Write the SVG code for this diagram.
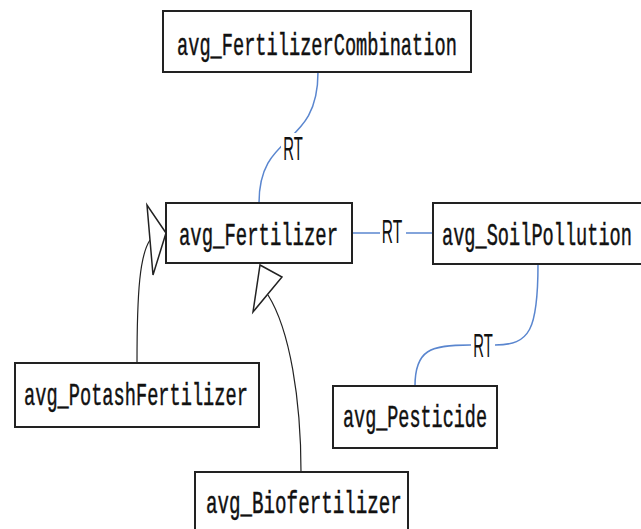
<svg xmlns="http://www.w3.org/2000/svg" width="641" height="529" viewBox="0 0 641 529">
<style>
.box{fill:#fff;stroke:#222;stroke-width:2}
.lbl{font-family:"Liberation Mono","Courier New",monospace;font-size:32px;fill:#111;stroke:#111;stroke-width:0.5}
.rt{font-family:"Liberation Sans",Arial,sans-serif;font-size:33px;fill:#111;text-anchor:middle}
.blue{fill:none;stroke:#5a86cf;stroke-width:1.5}
.gen{fill:none;stroke:#222;stroke-width:1.2}
.head{fill:#fff;stroke:#222;stroke-width:1.5;stroke-linejoin:miter}
</style>
<rect width="641" height="529" fill="#fff"/>
<g id="connectors">
  <path class="blue" d="M318,72 C318,150 259,130 259,203"/>
  <rect x="281" y="133" width="24" height="30" fill="#fff"/>
  <text class="rt" transform="translate(293,160) scale(0.45,1)">RT</text>
  <path class="blue" d="M352,233 L433,233"/>
  <rect x="380" y="217" width="26" height="30" fill="#fff"/>
  <text class="rt" transform="translate(392,243) scale(0.47,1)">RT</text>
  <path class="blue" d="M538,264 C538,330 530,345 495,345 L470,345 C430,345 415,350 415,386"/>
  <rect x="471" y="330" width="24" height="30" fill="#fff"/>
  <text class="rt" transform="translate(483,357) scale(0.45,1)">RT</text>
  <path class="gen" d="M137,363 C137,290 140,255 150,240"/>
  <polygon class="head" points="166,233 147,205 153,275"/>
  <path class="gen" d="M301,472 C301,400 290,330 268,295"/>
  <polygon class="head" points="260,265 282,277 253,312"/>
</g>
<g id="avg_FertilizerCombination">
  <rect class="box" x="163" y="11" width="308" height="61"/>
  <text class="lbl" transform="translate(177,55) scale(0.583,1)">avg_FertilizerCombination</text>
</g>
<g id="avg_Fertilizer">
  <rect class="box" x="166" y="203" width="186" height="60"/>
  <text class="lbl" transform="translate(179,245) scale(0.592,1)">avg_Fertilizer</text>
</g>
<g id="avg_SoilPollution">
  <rect class="box" x="433" y="203" width="215" height="61"/>
  <text class="lbl" transform="translate(442,245) scale(0.582,1)">avg_SoilPollution</text>
</g>
<g id="avg_PotashFertilizer">
  <rect class="box" x="15" y="363" width="244" height="64"/>
  <text class="lbl" transform="translate(24,405) scale(0.583,1)">avg_PotashFertilizer</text>
</g>
<g id="avg_Pesticide">
  <rect class="box" x="333" y="386" width="164" height="62"/>
  <text class="lbl" transform="translate(343,427) scale(0.577,1)">avg_Pesticide</text>
</g>
<g id="avg_Biofertilizer">
  <rect class="box" x="195" y="472" width="213" height="70"/>
  <text class="lbl" transform="translate(206,513) scale(0.6,1)">avg_Biofertilizer</text>
</g>
</svg>
